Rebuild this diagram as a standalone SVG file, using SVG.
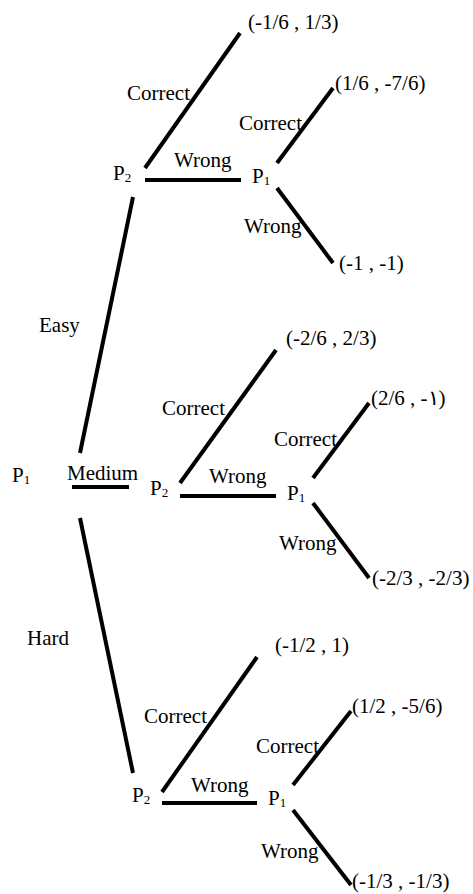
<svg xmlns="http://www.w3.org/2000/svg" width="473" height="894" viewBox="0 0 473 894">
<style>
text{font-family:"Liberation Serif","DejaVu Serif","Times New Roman",serif;font-size:21px;fill:#000}
.s{font-size:13px}
line{stroke:#000;stroke-width:4}
</style>
<rect width="473" height="894" fill="#fff"/>
<g id="connectors">
<line x1="133" y1="197" x2="80" y2="453"/>
<line x1="72" y1="487" x2="129" y2="487"/>
<line x1="80" y1="518" x2="133" y2="773"/>
<line x1="145" y1="168" x2="240" y2="33"/>
<line x1="145" y1="180" x2="241" y2="180"/>
<line x1="277" y1="163" x2="333" y2="88"/>
<line x1="277" y1="188" x2="333" y2="263"/>
<line x1="180" y1="483" x2="276" y2="350"/>
<line x1="180" y1="496" x2="276" y2="496"/>
<line x1="313" y1="478" x2="369" y2="403"/>
<line x1="313" y1="503" x2="369" y2="578"/>
<line x1="162" y1="792" x2="257" y2="657"/>
<line x1="162" y1="803" x2="257" y2="803"/>
<line x1="293" y1="785" x2="351" y2="711"/>
<line x1="293" y1="810" x2="351" y2="885"/>
</g>
<g id="labels">
<text x="39" y="332">Easy</text>
<text x="67" y="480">Medium</text>
<text x="27" y="645">Hard</text>
<text x="127" y="100">Correct</text>
<text x="174" y="167">Wrong</text>
<text x="239" y="130">Correct</text>
<text x="244" y="233">Wrong</text>
<text x="162" y="415">Correct</text>
<text x="209" y="483">Wrong</text>
<text x="274" y="446">Correct</text>
<text x="279" y="550">Wrong</text>
<text x="144" y="723">Correct</text>
<text x="191" y="792">Wrong</text>
<text x="256" y="753">Correct</text>
<text x="261" y="858">Wrong</text>
</g>
<g id="root-P1"><text x="12" y="482">P<tspan class="s" dy="2">1</tspan></text></g>
<g id="easy-P2"><text x="113" y="180">P<tspan class="s" dy="2">2</tspan></text></g>
<g id="easy-P1"><text x="252" y="183">P<tspan class="s" dy="2">1</tspan></text></g>
<g id="medium-P2"><text x="150" y="495">P<tspan class="s" dy="2">2</tspan></text></g>
<g id="medium-P1"><text x="287" y="500">P<tspan class="s" dy="2">1</tspan></text></g>
<g id="hard-P2"><text x="132" y="802">P<tspan class="s" dy="2">2</tspan></text></g>
<g id="hard-P1"><text x="268" y="805">P<tspan class="s" dy="2">1</tspan></text></g>
<g id="payoffs">
<text x="248" y="29">(-1/6 , 1/3)</text>
<text x="335" y="90">(1/6 , -7/6)</text>
<text x="339" y="270">(-1 , -1)</text>
<text x="286" y="345">(-2/6 , 2/3)</text>
<text x="371" y="405">(2/6 , -١)</text>
<text x="372" y="585">(-2/3 , -2/3)</text>
<text x="275" y="652">(-1/2 , 1)</text>
<text x="352" y="713">(1/2 , -5/6)</text>
<text x="352" y="888">(-1/3 , -1/3)</text>
</g>
</svg>
